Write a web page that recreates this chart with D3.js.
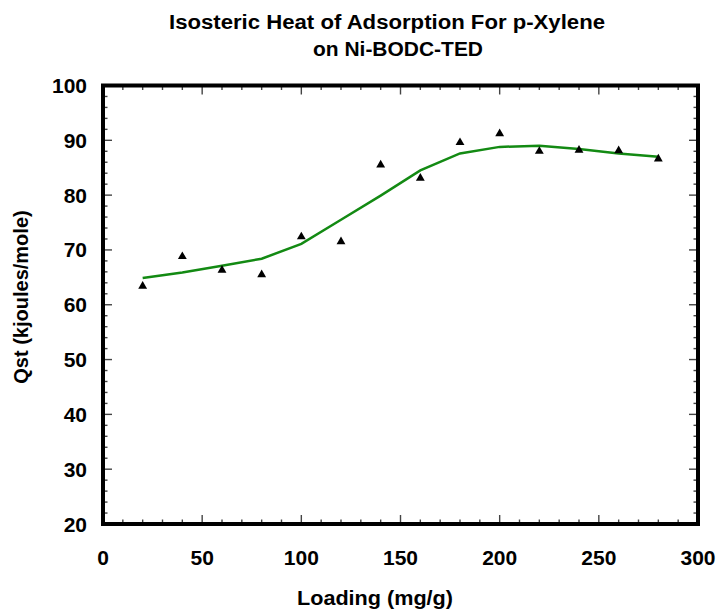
<!DOCTYPE html>
<html>
<head>
<meta charset="utf-8">
<script src="https://cdn.jsdelivr.net/npm/d3@7"></script>
<style>
  html, body { margin: 0; padding: 0; background: #fff; }
  svg { display: block; font-family: "Liberation Sans", Arial, sans-serif; }
</style>
</head>
<body>
<svg id="chart" width="721" height="611"></svg>
<script>
// ---- data ----
const loading = [20, 40, 60, 80, 100, 120, 140, 160, 180, 200, 220, 240, 260, 280];
const qstMeasured = [63.4, 68.8, 66.3, 65.5, 72.4, 71.5, 85.5, 83.1, 89.6, 91.2, 88.0, 88.2, 88.1, 86.6];
const qstFit = [64.9, 65.9, 67.1, 68.4, 71.1, 75.5, 79.9, 84.5, 87.6, 88.8, 89.0, 88.4, 87.6, 87.0];
const xTicks = [0, 50, 100, 150, 200, 250, 300];
const yTicks = [20, 30, 40, 50, 60, 70, 80, 90, 100];
const titleLines = ["Isosteric Heat of Adsorption For p-Xylene", "on Ni-BODC-TED"];
const xLabel = "Loading (mg/g)";
const yLabel = "Qst (kjoules/mole)";

const svg = d3.select("#chart");
const L = 103, R = 698, T = 85.5, B = 524;
const x = d3.scaleLinear().domain([0, 300]).range([L, R]);
const y = d3.scaleLinear().domain([20, 100]).range([B, T]);

// minor ticks
const xMinor = d3.range(0, 301, 10).filter(v => v % 50 !== 0);
const yMinor = d3.range(20, 101, 2).filter(v => v % 10 !== 0);
const tickColor = "#444";
const majLen = 9, minLen = 4.5;

const tg = svg.append("g").attr("stroke", tickColor).attr("stroke-width", 1.4);
function xt(vals, len) {
  vals.forEach(v => {
    tg.append("line").attr("x1", x(v)).attr("x2", x(v)).attr("y1", B).attr("y2", B - len);
    tg.append("line").attr("x1", x(v)).attr("x2", x(v)).attr("y1", T).attr("y2", T + len);
  });
}
function yt(vals, len) {
  vals.forEach(v => {
    tg.append("line").attr("y1", y(v)).attr("y2", y(v)).attr("x1", L).attr("x2", L + len);
    tg.append("line").attr("y1", y(v)).attr("y2", y(v)).attr("x1", R).attr("x2", R - len);
  });
}
xt(xMinor, minLen); xt(xTicks, majLen);
yt(yMinor, minLen); yt(yTicks, majLen);

// tick labels
svg.append("g").selectAll("text").data(xTicks).join("text")
  .attr("x", d => x(d)).attr("y", 565)
  .attr("text-anchor", "middle")
  .attr("font-size", 21).attr("font-weight", "bold").attr("fill", "#000")
  .text(d => d);
svg.append("g").selectAll("text").data(yTicks).join("text")
  .attr("x", 87).attr("y", d => y(d) + 7.5)
  .attr("text-anchor", "end")
  .attr("font-size", 21).attr("font-weight", "bold").attr("fill", "#000")
  .text(d => d);

// fit line
const line = d3.line().x((d, i) => x(loading[i])).y(d => y(d));
svg.append("path").datum(qstFit)
  .attr("d", line).attr("fill", "none")
  .attr("stroke", "#138a13").attr("stroke-width", 2.5);

// points
svg.append("g").selectAll("path").data(qstMeasured).join("path")
  .attr("d", d3.symbol().type(d3.symbolTriangle).size(34))
  .attr("transform", (d, i) => `translate(${x(loading[i])},${y(d)})`)
  .attr("fill", "#000");

// frame
svg.append("rect").attr("x", L).attr("y", T).attr("width", R - L).attr("height", B - T)
  .attr("fill", "none").attr("stroke", "#000").attr("stroke-width", 4);

// titles
svg.append("text").attr("x", 387).attr("y", 29).attr("text-anchor", "middle")
  .attr("font-size", 20).attr("font-weight", "bold")
  .attr("textLength", 436).attr("lengthAdjust", "spacingAndGlyphs")
  .text(titleLines[0]);
svg.append("text").attr("x", 398).attr("y", 56).attr("text-anchor", "middle")
  .attr("font-size", 20).attr("font-weight", "bold")
  .attr("textLength", 170).attr("lengthAdjust", "spacingAndGlyphs")
  .text(titleLines[1]);

svg.append("text").attr("x", 375).attr("y", 605).attr("text-anchor", "middle")
  .attr("font-size", 20).attr("font-weight", "bold")
  .attr("textLength", 156).attr("lengthAdjust", "spacingAndGlyphs")
  .text(xLabel);
svg.append("text").attr("transform", "translate(28,297) rotate(-90)")
  .attr("text-anchor", "middle")
  .attr("font-size", 20).attr("font-weight", "bold")
  .text(yLabel);
</script>
</body>
</html>
